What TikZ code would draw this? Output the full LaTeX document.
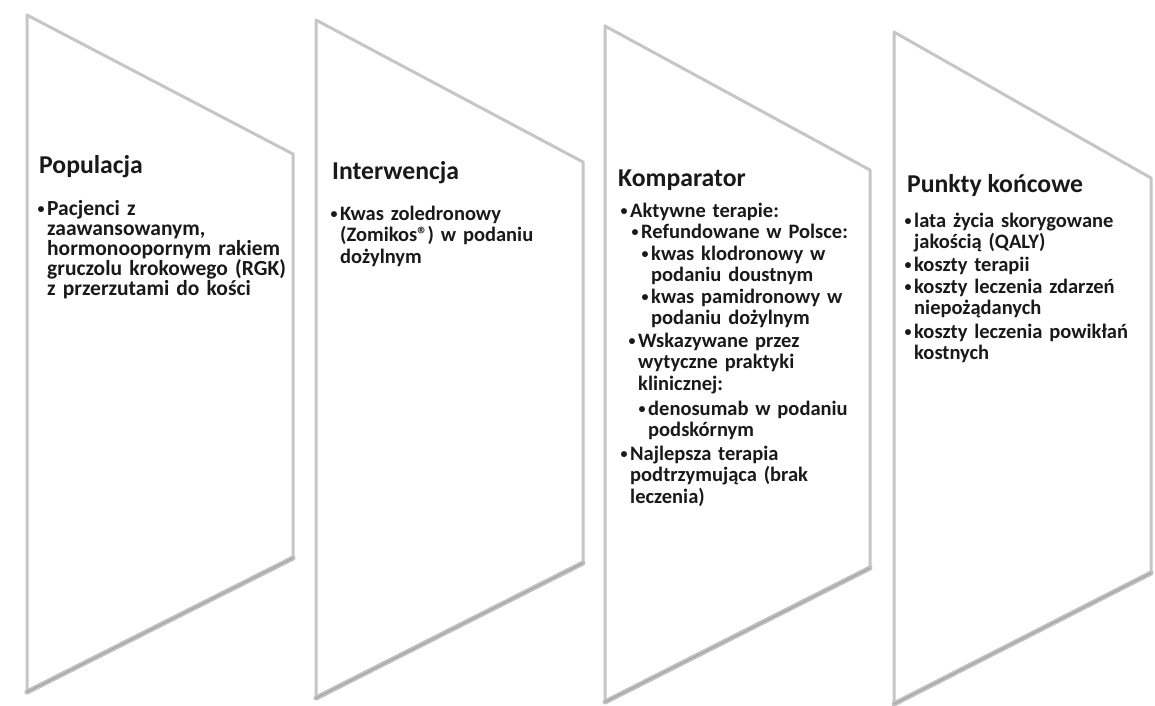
\documentclass[tikz,border=0pt]{standalone}
\usepackage{fontspec}
\setmainfont{Carlito}
\usetikzlibrary{positioning}
\tikzstyle{panel} = [draw=gray!45, line width=3pt, line join=round, fill=white]
\tikzstyle{floor} = [draw=gray!50, line width=5pt, line cap=round]
\tikzstyle{floorcore} = [draw=gray!75, line width=0.8pt]
\tikzstyle{title} = [anchor=base west, inner sep=0pt, text=black!90,
    font=\bfseries\fontsize{25.7}{27}\selectfont]
\tikzstyle{item} = [anchor=base west, inner sep=0pt, align=left, text width=250pt,
    text=black!90, font=\bfseries\fontsize{20.5}{21.5}\selectfont]
\newcommand{\bul}{\llap{\raisebox{1.5pt}{\fontsize{14}{14}\selectfont\textbullet}\hspace{2.5pt}}}

\begin{document}
\begin{tikzpicture}[x=1pt, y=-1pt]
  \useasboundingbox (0,0) rectangle (1155,705);
  % Panel corners
  \coordinate (pa1) at (27,15);   \coordinate (pa2) at (293,154);
  \coordinate (pa3) at (293,558); \coordinate (pa4) at (27,692);
  \coordinate (pb1) at (316,20);  \coordinate (pb2) at (583,162);
  \coordinate (pb3) at (583,563); \coordinate (pb4) at (316,698);
  \coordinate (pc1) at (605,26);  \coordinate (pc2) at (870,170);
  \coordinate (pc3) at (870,568); \coordinate (pc4) at (605,702);
  \coordinate (pd1) at (894,32);  \coordinate (pd2) at (1151,178);
  \coordinate (pd3) at (1151,573); \coordinate (pd4) at (894,704);

  % Panels
  \draw [panel] (pa1) -- (pa2) -- (pa3) -- (pa4) -- cycle;
  \draw [floor] (pa4) -- (pa3);  \draw [floorcore] (pa4) -- (pa3);
  \draw [panel] (pb1) -- (pb2) -- (pb3) -- (pb4) -- cycle;
  \draw [floor] (pb4) -- (pb3);  \draw [floorcore] (pb4) -- (pb3);
  \draw [panel] (pc1) -- (pc2) -- (pc3) -- (pc4) -- cycle;
  \draw [floor] (pc4) -- (pc3);  \draw [floorcore] (pc4) -- (pc3);
  \draw [panel] (pd1) -- (pd2) -- (pd3) -- (pd4) -- cycle;
  \draw [floor] (pd4) -- (pd3);  \draw [floorcore] (pd4) -- (pd3);

  % Populacja
  \node [title] (pop) at (39,173) {Populacja};
  \node [item, font=\bfseries\fontsize{21.5}{20}\selectfont] (pop1) at (47,215)
    {\bul Pacjenci z\\zaawansowanym,\\hormonoopornym rakiem\\gruczolu krokowego (RGK)\\z przerzutami do kości};

  % Interwencja
  \node [title] (int) at (332,179) {Interwencja};
  \node [item] (int1) at (340,220) {\bul Kwas zoledronowy\\(Zomikos®) w podaniu\\dożylnym};

  % Komparator
  \node [title] (kom) at (618,186) {Komparator};
  \node [item] (kom1) at (630,217) {\bul Aktywne terapie:};
  \node [item] (kom2) at (641,238) {\bul Refundowane w Polsce:};
  \node [item] (kom3) at (651,260) {\bul kwas klodronowy w\\podaniu doustnym};
  \node [item] (kom4) at (651,303) {\bul kwas pamidronowy w\\podaniu dożylnym};
  \node [item] (kom5) at (638,347) {\bul Wskazywane przez\\wytyczne praktyki\\klinicznej:};
  \node [item] (kom6) at (648,415) {\bul denosumab w podaniu\\podskórnym};
  \node [item] (kom7) at (630,460) {\bul Najlepsza terapia\\podtrzymująca (brak\\leczenia)};

  % Punkty koncowe
  \node [title] (pkt) at (907,192) {Punkty końcowe};
  \node [item] (pkt1) at (914,227) {\bul lata życia skorygowane\\jakością (QALY)};
  \node [item] (pkt2) at (914,271) {\bul koszty terapii};
  \node [item] (pkt3) at (914,293) {\bul koszty leczenia zdarzeń\\niepożądanych};
  \node [item] (pkt4) at (914,338) {\bul koszty leczenia powikłań\\kostnych};
\end{tikzpicture}
\end{document}
